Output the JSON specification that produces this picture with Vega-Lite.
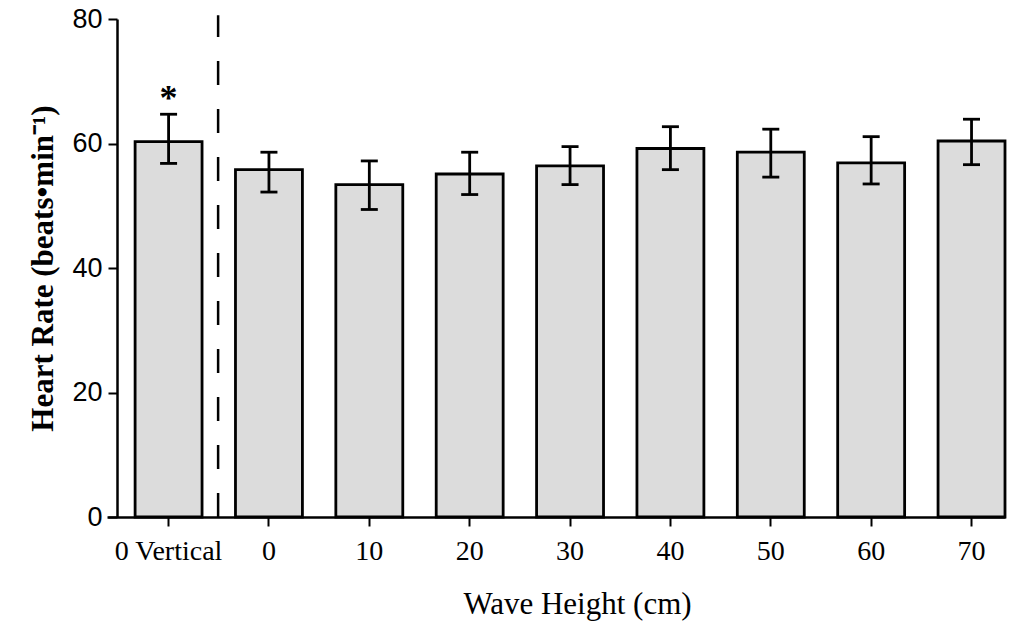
{
  "$schema": "https://vega.github.io/schema/vega-lite/v6.json",
  "autosize": "none",
  "padding": {"left": 107, "top": 19, "right": 10, "bottom": 106},
  "width": 898,
  "height": 498,
  "background": "white",
  "config": {"view": {"stroke": null}},
  "data": {"values": [
    {"cat": "0 Vertical", "value": 60.3, "hi": 64.7, "lo": 56.8, "note": "*"},
    {"cat": "0", "value": 55.8, "hi": 58.6, "lo": 52.2, "note": ""},
    {"cat": "10", "value": 53.4, "hi": 57.2, "lo": 49.4, "note": ""},
    {"cat": "20", "value": 55.1, "hi": 58.6, "lo": 51.8, "note": ""},
    {"cat": "30", "value": 56.4, "hi": 59.5, "lo": 53.4, "note": ""},
    {"cat": "40", "value": 59.2, "hi": 62.7, "lo": 55.8, "note": ""},
    {"cat": "50", "value": 58.6, "hi": 62.3, "lo": 54.6, "note": ""},
    {"cat": "60", "value": 56.9, "hi": 61.1, "lo": 53.5, "note": ""},
    {"cat": "70", "value": 60.4, "hi": 63.9, "lo": 56.6, "note": ""}
  ]},
  "encoding": {
    "x": {
      "field": "cat", "type": "nominal", "sort": null,
      "scale": {"paddingInner": 0.333, "paddingOuter": 0.14, "align": 1},
      "axis": {
        "title": "Wave Height (cm)",
        "labelAngle": 0,
        "labelFont": "Liberation Serif", "labelFontSize": 28, "labelColor": "black",
        "labelPadding": 11,
        "tickSize": 9, "tickWidth": 2, "tickColor": "black",
        "domainColor": "black", "domainWidth": 2.5,
        "titleFont": "Liberation Serif", "titleFontSize": 31, "titleFontWeight": "normal", "titleColor": "black",
        "titleX": 470, "titleY": 96, "titleBaseline": "alphabetic", "titleAnchor": "middle"
      }
    }
  },
  "layer": [
    {
      "mark": {"type": "bar", "fill": "#dcdcdc", "stroke": "black", "strokeWidth": 2.8},
      "encoding": {
        "y": {
          "field": "value", "type": "quantitative",
          "scale": {"domain": [0, 80], "nice": false, "zero": true},
          "axis": {
            "title": "Heart Rate (beats•min⁻¹)",
            "values": [0, 20, 40, 60, 80],
            "offset": -10,
            "grid": false,
            "labelFont": "Liberation Sans", "labelFontSize": 27, "labelColor": "black", "labelPadding": 6,
            "tickSize": 9, "tickWidth": 2, "tickColor": "black",
            "domainColor": "black", "domainWidth": 2.5,
            "titleFont": "Liberation Serif", "titleFontSize": 31, "titleFontWeight": "bold", "titleColor": "black",
            "titlePadding": 12
          }
        }
      }
    },
    {
      "mark": {"type": "rule", "stroke": "black", "strokeWidth": 2.8},
      "encoding": {
        "y": {"field": "value", "type": "quantitative"},
        "y2": {"field": "hi"}
      }
    },
    {
      "mark": {"type": "tick", "color": "black", "size": 17, "thickness": 2.8, "opacity": 1},
      "encoding": {
        "y": {"field": "hi", "type": "quantitative"}
      }
    },
    {
      "mark": {"type": "rule", "stroke": "black", "strokeWidth": 2.8},
      "encoding": {
        "y": {"field": "lo", "type": "quantitative"},
        "y2": {"field": "value"}
      }
    },
    {
      "mark": {"type": "tick", "color": "black", "size": 17, "thickness": 2.8, "opacity": 1},
      "encoding": {
        "y": {"field": "lo", "type": "quantitative"}
      }
    },
    {
      "mark": {"type": "text", "font": "Liberation Serif", "fontSize": 36, "fontWeight": "bold", "color": "black", "baseline": "alphabetic", "dy": -4},
      "encoding": {
        "y": {"field": "hi", "type": "quantitative"},
        "text": {"field": "note"}
      }
    },
    {
      "transform": [{"filter": "datum.cat === '0 Vertical'"}],
      "mark": {"type": "rule", "stroke": "black", "strokeWidth": 2.5, "strokeDash": [24, 24], "clip": false},
      "encoding": {
        "x": {"field": "cat", "type": "nominal", "sort": null, "bandPosition": 1.24},
        "y": {"datum": 0, "type": "quantitative"},
        "y2": {"datum": 80.6}
      }
    }
  ]
}
